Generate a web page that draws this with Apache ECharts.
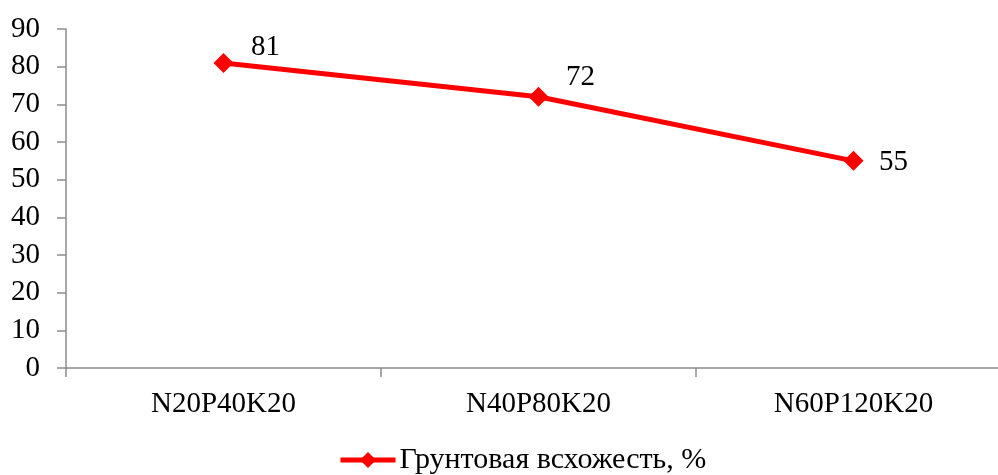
<!DOCTYPE html>
<html>
<head>
<meta charset="utf-8">
<script src="https://cdn.jsdelivr.net/npm/echarts@6/dist/echarts.min.js"></script>
<style>
html,body{margin:0;padding:0;background:#fff;}
#chart{width:998px;height:475px;}
</style>
</head>
<body>
<div id="chart"></div>
<script>
const categories = ['N20P40K20', 'N40P80K20', 'N60P120K20'];
const seriesName = 'Грунтовая всхожесть, %';
const values = [81, 72, 55];
const yTicks = { min: 0, max: 90, interval: 10 };

const labelOffsets = [[42, -16], [42, -19], [40, 2]];
const FONT = "'Liberation Serif', 'Times New Roman', serif";

const chart = echarts.init(document.getElementById('chart'), null, { renderer: 'canvas' });
chart.setOption({
  animation: false,
  backgroundColor: '#fff',
  grid: { left: 66, top: 29, width: 945, height: 339, containLabel: false, outerBoundsMode: 'none' },
  legend: {
    left: 333, top: 440,
    itemWidth: 55, itemHeight: 20, itemGap: 10,
    lineStyle: { width: 5 },
    textStyle: { fontFamily: FONT, fontSize: 30, color: '#000', padding: [0,0,0,-1] },
    data: [seriesName]
  },
  xAxis: {
    type: 'category',
    data: categories,
    boundaryGap: true,
    axisLine: { lineStyle: { color: '#8c8c8c', width: 1.5 } },
    axisTick: { show: true, length: 9, lineStyle: { color: '#8c8c8c', width: 1.5 } },
    axisLabel: { fontFamily: FONT, fontSize: 29, color: '#000', margin: 22 }
  },
  yAxis: {
    type: 'value',
    min: yTicks.min, max: yTicks.max, interval: yTicks.interval,
    splitLine: { show: false },
    axisLine: { show: true, lineStyle: { color: '#8c8c8c', width: 1.5 } },
    axisTick: { show: true, length: 9, lineStyle: { color: '#8c8c8c', width: 1.5 } },
    axisLabel: { fontFamily: FONT, fontSize: 29, color: '#000', margin: 26 }
  },
  series: [{
    name: seriesName,
    type: 'line',
    data: values.map((v, i) => ({ value: v, label: { offset: labelOffsets[i] } })),
    symbol: 'diamond',
    symbolSize: 20,
    lineStyle: { color: '#ff0000', width: 5 },
    itemStyle: { color: '#ff0000' },
    label: {
      show: true, position: 'inside',
      fontFamily: FONT, fontSize: 29, color: '#000'
    }
  }]
});
</script>
</body>
</html>
